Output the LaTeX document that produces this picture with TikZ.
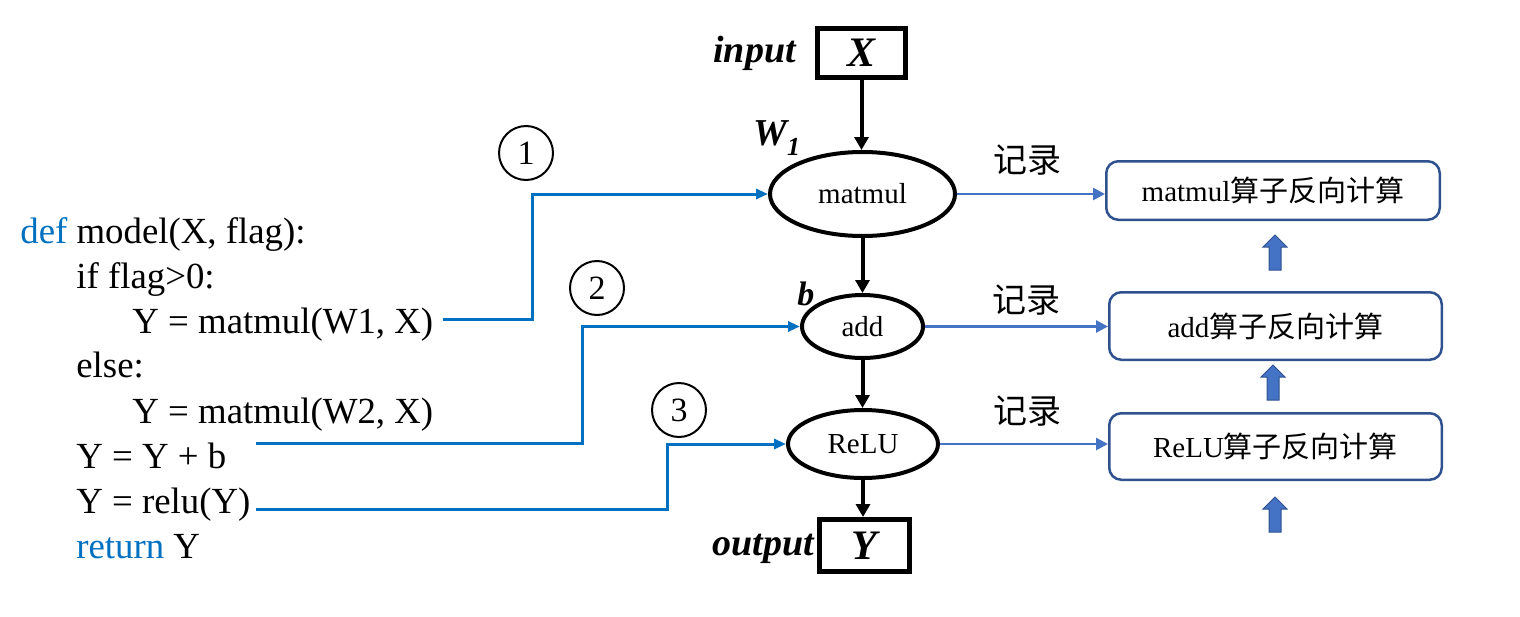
\documentclass[tikz,border=0pt]{standalone}
\usepackage{fontspec}
\setmainfont{Liberation Serif}
\newfontfamily\cjk{Noto Sans CJK SC}
\usetikzlibrary{arrows.meta,shapes.geometric}
\definecolor{codeblue}{HTML}{0070C0}
\definecolor{recblue}{HTML}{4472C4}
\definecolor{boxblue}{HTML}{2F528F}
\newcommand\myfs[1]{\fontsize{#1}{#1}\selectfont}
\begin{document}
\begin{tikzpicture}[x=0.5pt,y=-0.5pt,
 codeline/.style={anchor=base west, inner sep=0, font=\myfs{18.4}},
 opnode/.style={ellipse, draw, line width=2pt, inner sep=0, font=\myfs{14.5}},
 iobox/.style={draw, line width=2.5pt, inner sep=0, font=\myfs{21}\bfseries\itshape},
 lbl/.style={anchor=base west, inner sep=0, font=\myfs{19}\bfseries\itshape},
 numcirc/.style={circle, draw, line width=1pt, minimum size=27pt, inner sep=0, font=\myfs{17}},
 rec/.style={inner sep=0, font=\myfs{17}\cjk},
 bwbox/.style={draw=boxblue, line width=1.25pt, rounded corners=6pt, inner sep=0, font=\myfs{14.5}},
 flow/.style={line width=2pt, -{Triangle[length=6.5pt,width=7pt]}},
 link/.style={draw=codeblue, line width=1.5pt, -{Triangle[length=6pt,width=5pt]}},
 recarrow/.style={draw=recblue, line width=1.3pt, -{Triangle[length=6pt,width=6pt]}},
 uparrowblk/.pic={\draw[fill=recblue, draw=boxblue, line width=0.5pt] (-6,0) -- (-6,-23) -- (-12,-23) -- (0,-35) -- (12,-23) -- (6,-23) -- (6,0) -- cycle;}
]
\useasboundingbox (0,0) rectangle (1520,616);

% code
\node[codeline] (l1) at (20,243) {\textcolor{codeblue}{def} model(X, flag):};
\node[codeline] (l2) at (76,288) {if flag>0:};
\node[codeline] (l3) at (132,333) {Y = matmul(W1, X)};
\node[codeline] (l4) at (76,377) {else:};
\node[codeline] (l5) at (132,423) {Y = matmul(W2, X)};
\node[codeline] (l6) at (76,468) {Y = Y + b};
\node[codeline] (l7) at (76,513) {Y = relu(Y)};
\node[codeline] (l8) at (76,558) {\textcolor{codeblue}{return} Y};

% graph
\node[iobox, minimum width=44pt, minimum height=24.5pt] (xin) at (861.5,53) {X};
\node[opnode, minimum width=92.5pt, minimum height=42pt] (mm) at (862.5,194) {matmul};
\node[opnode, minimum width=60.5pt, minimum height=31.5pt] (ad) at (862.5,326.5) {add};
\node[opnode, minimum width=75pt, minimum height=34pt] (re) at (863,444) {ReLU};
\node[iobox, minimum width=45pt, minimum height=26pt] (yout) at (864.5,545.5) {Y};

\node[lbl] (inl) at (713,62) {input};
\node[lbl] (wl) at (753,145) {W\raisebox{-5pt}{\myfs{13}1}};
\node[lbl, font=\myfs{17}\bfseries\itshape] (bl) at (797,305) {b};
\node[lbl] (outl) at (712,555) {output};

\draw[flow] (xin.south) -- (xin.south |- mm.north);
\draw[flow] (mm.south) -- (mm.south |- ad.north);
\draw[flow] (ad.south) -- (ad.south |- re.north);
\draw[flow] (re.south) -- (re.south |- yout.north);

% circled numbers
\node[numcirc] (n1) at (526,153) {1};
\node[numcirc] (n2) at (597,288) {2};
\node[numcirc] (n3) at (679,410) {3};

% links
\coordinate (s1) at (443,319);
\coordinate (k1) at (532,0);
\coordinate (s2) at (256,443);
\coordinate (k2) at (582,0);
\coordinate (s3) at (256,509);
\coordinate (k3) at (667,0);
\draw[link] (s1) -- (s1 -| k1) |- (mm.west);
\draw[link] (s2) -- (s2 -| k2) |- (ad.west);
\draw[link] (s3) -- (s3 -| k3) |- (re.west);

% backward boxes
\node[bwbox, minimum width=166.75pt, minimum height=29.25pt] (b1) at (1273,190.5) {matmul{\cjk 算子反向计算}};
\node[bwbox, minimum width=166.25pt, minimum height=33.75pt] (b2) at (1275.5,326) {add{\cjk 算子反向计算}};
\node[bwbox, minimum width=166.25pt, minimum height=33.25pt] (b3) at (1275.5,446.5) {ReLU{\cjk 算子反向计算}};

\node[rec] (r1) at (1027,160) {记录};
\node[rec] (r2) at (1026,300) {记录};
\node[rec] (r3) at (1027,411) {记录};

\draw[recarrow] (mm.east) -- (mm.east -| b1.west);
\draw[recarrow] (ad.east) -- (ad.east -| b2.west);
\draw[recarrow] (re.east) -- (re.east -| b3.west);

\pic at (1275,270) {uparrowblk};
\pic at (1273,400) {uparrowblk};
\pic at (1275,532) {uparrowblk};
\end{tikzpicture}
\end{document}
